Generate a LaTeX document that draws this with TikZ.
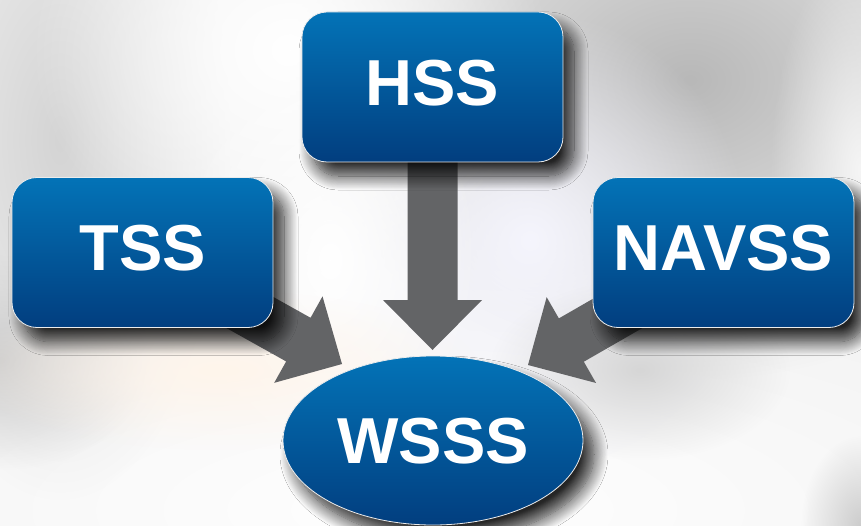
\documentclass[tikz,border=0pt]{standalone}
\usepackage{fontspec}
\setmainfont{Liberation Sans}
\usetikzlibrary{calc,fadings,shadows.blur,shapes.geometric}

\definecolor{bluetop}{HTML}{0373B7}
\definecolor{bluebot}{HTML}{023E7F}
\definecolor{arrowgray}{HTML}{636466}
\definecolor{paper}{HTML}{F1F1F1}

% soft round blob used for the out-of-focus backdrop
\tikzfading[name=softblob, inner color=transparent!0, outer color=transparent!100]

\tikzset{
  blob/.style={path fading=softblob, fill=#1},
  boxshadow/.style={blur shadow={shadow xshift=11pt, shadow yshift=-14pt,
      shadow blur radius=14pt, shadow opacity=85, shadow blur steps=16}},
  bluefill/.style={top color=bluetop, bottom color=bluebot,
      draw=white!85!gray, line width=0.8pt, text=white,
      font=\bfseries\fontsize{65}{65}\selectfont, inner sep=0pt},
  unitbox/.style={bluefill, boxshadow, rectangle, rounded corners=25pt,
      minimum width=261pt, minimum height=150pt,
      text height=46.5pt, text depth=10pt},
  hub/.style={bluefill, boxshadow, ellipse,
      minimum width=300pt, minimum height=169pt,
      text height=46.5pt, text depth=0pt},
}

% thick block arrow from #1 (hidden under a box) to the tip #2
\newcommand\fatarrow[2]{%
  \coordinate (fa-base) at ($(#2)!50pt!(#1)$);
  \fill[arrowgray]
    ($(#1)!25pt!90:(#2)$) -- ($(fa-base)!25pt!90:(#2)$)
    -- ($(fa-base)!49.5pt!90:(#2)$) -- (#2)
    -- ($(fa-base)!49.5pt!-90:(#2)$) -- ($(fa-base)!25pt!-90:(#2)$)
    -- ($(#1)!25pt!-90:(#2)$) -- cycle;
}

\begin{document}
\begin{tikzpicture}[x=1pt, y=-1pt]
  \useasboundingbox (0,0) rectangle (861,526);
  \clip (0,0) rectangle (861,526);

  % blurred backdrop
  \fill[paper] (0,0) rectangle (861,526);
  \fill[blob=white] (420,510) ellipse [x radius=900pt, y radius=280pt];
  \fill[blob=black!28] (690,80) ellipse [x radius=400pt, y radius=300pt];
  \fill[blob=black!22!blue!4] (530,240) ellipse [x radius=220pt, y radius=230pt];
  \fill[blob=black!17] (60,140) ellipse [x radius=170pt, y radius=360pt];
  \fill[blob=black!20] (0,360) ellipse [x radius=150pt, y radius=110pt];
  \fill[blob=black!16] (640,370) ellipse [x radius=150pt, y radius=90pt];
  \fill[blob=white] (290,50) ellipse [x radius=260pt, y radius=220pt];
  \fill[blob=white] (330,260) ellipse [x radius=150pt, y radius=220pt];
  \fill[blob=white!96!black] (860,170) ellipse [x radius=90pt, y radius=220pt];
  \fill[blob=orange!8!white] (220,370) ellipse [x radius=260pt, y radius=80pt];
  \fill[blob=black!20] (861,526) ellipse [x radius=60pt, y radius=90pt];

  % named anchors of the layout
  \coordinate (hssc)   at (432.5,87);
  \coordinate (tssc)   at (142.5,252.5);
  \coordinate (navssc) at (723.5,252.5);
  \coordinate (tipH)   at (432.5,350);
  \coordinate (tipT)   at (342,364);
  \coordinate (tipN)   at (528,365);

  % block arrows, under the boxes
  \fatarrow{hssc}{tipH}
  \fatarrow{tssc}{tipT}
  \fatarrow{navssc}{tipN}

  % boxes and hub
  \node[unitbox] (hss)   at (hssc)   {HSS};
  \node[unitbox] (tss)   at (tssc)   {TSS};
  \node[unitbox] (navss) at (navssc) {NAVSS};
  \node[hub]     (wsss)  at (433,440.5) {WSSS};
\end{tikzpicture}
\end{document}
